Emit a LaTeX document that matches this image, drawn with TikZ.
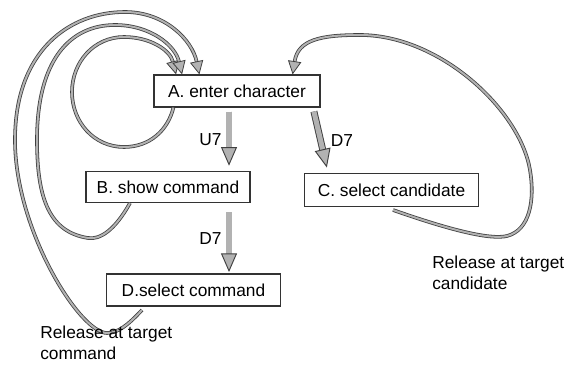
\documentclass[tikz,border=0pt]{standalone}
\usepackage{fontspec}
\setmainfont{Liberation Sans}
\usetikzlibrary{arrows.meta,positioning,calc}
\tikzset{
  kb state/.style={rectangle, draw=black!80, line width=0.9pt, fill=white, align=center, minimum height=24pt, inner sep=2pt, font=\fontsize{13}{15}\selectfont},
  kb step/.style={draw=black!75, line width=0.7pt, double=gray!60, double distance=3.8pt, -{Triangle[length=14pt, width=12pt, color=black!75, fill=gray!60, line width=0.7pt]}},
  kb loop/.style={draw=black!75, line width=0.6pt, double=gray!60, double distance=1.5pt},
  kb back/.style={kb loop, -{Triangle[length=10pt, width=10pt, color=black!75, fill=gray!60, line width=0.6pt]}},
  kb note/.style={align=left, anchor=north west, inner sep=0pt, font=\fontsize{13}{15.75}\selectfont}
}
\begin{document}
\begin{tikzpicture}[x=0.75pt, y=-0.75pt]
    \useasboundingbox (0,0) rectangle (580,374);
    % States
    \node [kb state, minimum width=124.5pt] (A) at (237,91) {A. enter character};
    \node [kb state, minimum width=123pt, minimum height=23pt] (B) at (168,187) {B. show command};
    \node [kb state, minimum width=131pt, minimum height=25pt] (C) at (391.5,190) {C. select candidate};
    \node [kb state, minimum width=130pt] (D) at (193.5,290) {D.select command};

    % Key strokes
    \draw [kb step, shorten <=3pt, shorten >=4pt] ([xshift=-6pt]A.south) -- ([xshift=-6pt]A.south |- B.north) node[midway, left=2pt, font=\fontsize{13}{15}\selectfont] {U7};
    \draw [kb step, shorten <=3pt, shorten >=4pt] ([xshift=57pt]A.south) -- ([xshift=-47.6pt]C.north) node[midway, right=4pt, font=\fontsize{13}{15}\selectfont] {D7};
    \draw [kb step, shorten <=7pt, shorten >=1pt] ([xshift=45.75pt]B.south) -- ([xshift=45.75pt]B.south |- D.north) node[midway, left=2pt, font=\fontsize{13}{15}\selectfont] {D7};

    % Return paths
    \coordinate (Aself) at ([xshift=15pt]A.south west);
    \coordinate (Bout) at (130,203);
    \coordinate (Dout) at (142,310);
    \coordinate (Cout) at (393,210);
    \draw [kb back] (Aself) .. controls (168,130) and (150,147) .. (124,147)
        .. controls (94,147) and (72,122) .. (72,92)
        .. controls (72,62) and (94,37) .. (124,37)
        .. controls (150,37) and (170,50) .. ([xshift=17pt]A.north west);
    \draw [kb back] (Bout) .. controls (115,230) and (100,240) .. (88,238)
        .. controls (50,232) and (37,200) .. (37,140)
        .. controls (37,60) and (70,25) .. (115,25)
        .. controls (150,25) and (175,45) .. ([xshift=21.5pt]A.north west);
    \draw [kb back] (Dout) .. controls (128,325) and (118,333) .. (107,333)
        .. controls (80,333) and (15,230) .. (15,140)
        .. controls (15,50) and (70,12) .. (125,12)
        .. controls (165,12) and (192,40) .. ([xshift=34.5pt]A.north west);
    \draw [kb back] (Cout) .. controls (450,230) and (490,240) .. (507,236)
        .. controls (530,230) and (535,200) .. (530,170)
        .. controls (520,110) and (440,35) .. (360,35)
        .. controls (320,35) and (298,40) .. ([xshift=-21pt]A.north east);

    % Labels
    \node [kb note] (relC) at (432,256) {Release at target\\candidate};
    \node [kb note] (relD) at (40,326) {Release at target\\command};
\end{tikzpicture}
\end{document}
